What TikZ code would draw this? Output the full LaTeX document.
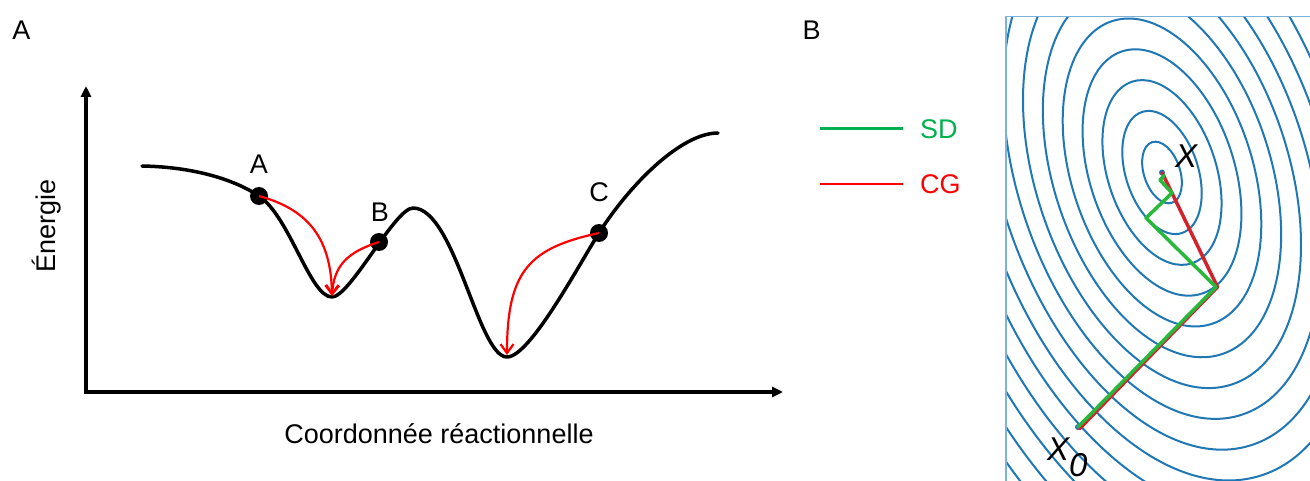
\documentclass[tikz,border=0pt]{standalone}
\usepackage{fontspec}
\setmainfont{Liberation Sans}
\usetikzlibrary{arrows.meta}
\definecolor{cblue}{RGB}{31,119,180}
\definecolor{frameblue}{RGB}{125,178,218}
\definecolor{sdgreen}{RGB}{0,176,80}
\definecolor{cgred}{RGB}{255,0,0}
\definecolor{pgreen}{RGB}{40,185,60}
\definecolor{pred}{RGB}{210,35,45}
\begin{document}
\begin{tikzpicture}[x=1pt,y=-1pt,
  txt/.style={font=\fontsize{27}{30}\selectfont, inner sep=0pt, anchor=base},
  axisline/.style={line width=3.3pt, {Triangle[length=11pt,width=10pt]}-{Triangle[length=11pt,width=10pt]}},
  curveline/.style={line width=3.5pt, line join=round, line cap=round},
  blackdot/.style={circle, fill=black, inner sep=0pt, minimum size=18pt},
  redarrow/.style={cgred, line width=2.2pt, -{Straight Barb[length=9pt,width=13pt,line width=2.2pt]}},
  contour/.style={cblue, line width=2pt},
  bluedot/.style={circle, fill=cblue, inner sep=0pt, minimum size=6pt},
  legendline/.style={line width=2.5pt},
  pathline/.style={line width=3.5pt, line join=round, line cap=round},
  xlabel/.style={font=\fontsize{33}{36}\selectfont\itshape, inner sep=0pt}
]
\useasboundingbox (0,0) rectangle (1310,481);

% ---------------- Panel A ----------------
\node[txt] (panelA) at (21.5,40) {A};
\coordinate (ytip) at (86,86);
\coordinate (O) at (86,392);
\coordinate (xtip) at (783,392);
\draw[axisline] (ytip) -- (O) -- (xtip);

\node[txt] (xlab) at (439,443) {Coordonnée réactionnelle};
\node[txt, rotate=90] (ylab) at (55,226) {Énergie};

\coordinate (start) at (142,166);
\coordinate (min1) at (332,297);
\coordinate (peak) at (413,208);
\coordinate (min2) at (507,357);
\coordinate (end) at (718,133);
\draw[curveline] (start)
  .. controls (195,167) and (235,180) .. (259,196)
  .. controls (290,217) and (310,297) .. (min1)
  .. controls (350,297) and (395,208) .. (peak)
  .. controls (455,208) and (478,357) .. (min2)
  .. controls (530,357) and (579,264.5) .. (599,233)
  .. controls (628,187) and (680,133) .. (end);

\node[blackdot] (pA) at (259,196) {};
\node[blackdot] (pB) at (379,242) {};
\node[blackdot] (pC) at (599,233) {};
\node[txt] (lA) at (259,174) {A};
\node[txt] (lB) at (380,222) {B};
\node[txt] (lC) at (599,202) {C};

\coordinate (m1) at (332,296);
\coordinate (m2) at (507,355);
\draw[redarrow] (pA.center) .. controls (310,210) and (331,240) .. (m1);
\draw[redarrow] (pB.center) .. controls (348,252) and (334,265) .. (m1);
\draw[redarrow] (pC.center) .. controls (530,248) and (507,270) .. (m2);

% ---------------- Legend ----------------
\node[txt] (panelB) at (811.5,40) {B};
\coordinate (sd1) at (820,128.5);
\coordinate (sd2) at (903,128.5);
\coordinate (cg1) at (820,184);
\coordinate (cg2) at (903,184);
\draw[legendline, sdgreen] (sd1) -- (sd2);
\draw[legendline, cgred] (cg1) -- (cg2);
\node[txt, anchor=base west, text=sdgreen] (lSD) at (920,139) {SD};
\node[txt, anchor=base west, text=cgred] (lCG) at (920,193.5) {CG};

% ---------------- Panel B ----------------
\coordinate (ctr) at (1162,172.5);
\begin{scope}
  \clip (1006,17) rectangle (1312,483);
  \foreach \k in {1,...,17}
    \draw[contour, rotate around={18.3:(ctr)}] (ctr) ellipse [x radius={18.06pt*\k}, y radius={31.88pt*\k}];
\end{scope}
\draw[frameblue, line width=1.5pt] (1006,483) -- (1006,16.5) -- (1312,16.5);

\coordinate (corner) at (1216,287);
\coordinate (s1) at (1146,218);
\coordinate (s2) at (1172,193);
\coordinate (s3) at (1160,180);
\coordinate (s4) at (1164,175.5);
\node[bluedot] (x0) at (1078,427) {};
\node[bluedot] (xs) at (1162,172.5) {};

\draw[pathline, pred] ([shift={(1.6,1.6)}]x0.center) -- ([shift={(1.5,0)}]corner) -- (xs.center);
\draw[pathline, pgreen] (x0.center) -- (corner) -- (s1) -- (s2) -- (s3) -- (s4);

\node[xlabel, anchor=base] (lX) at (1186,168) {X};
\node[xlabel, anchor=base west] (lX0) at (1047,460) {X\raisebox{-16pt}{0}};
\end{tikzpicture}
\end{document}
